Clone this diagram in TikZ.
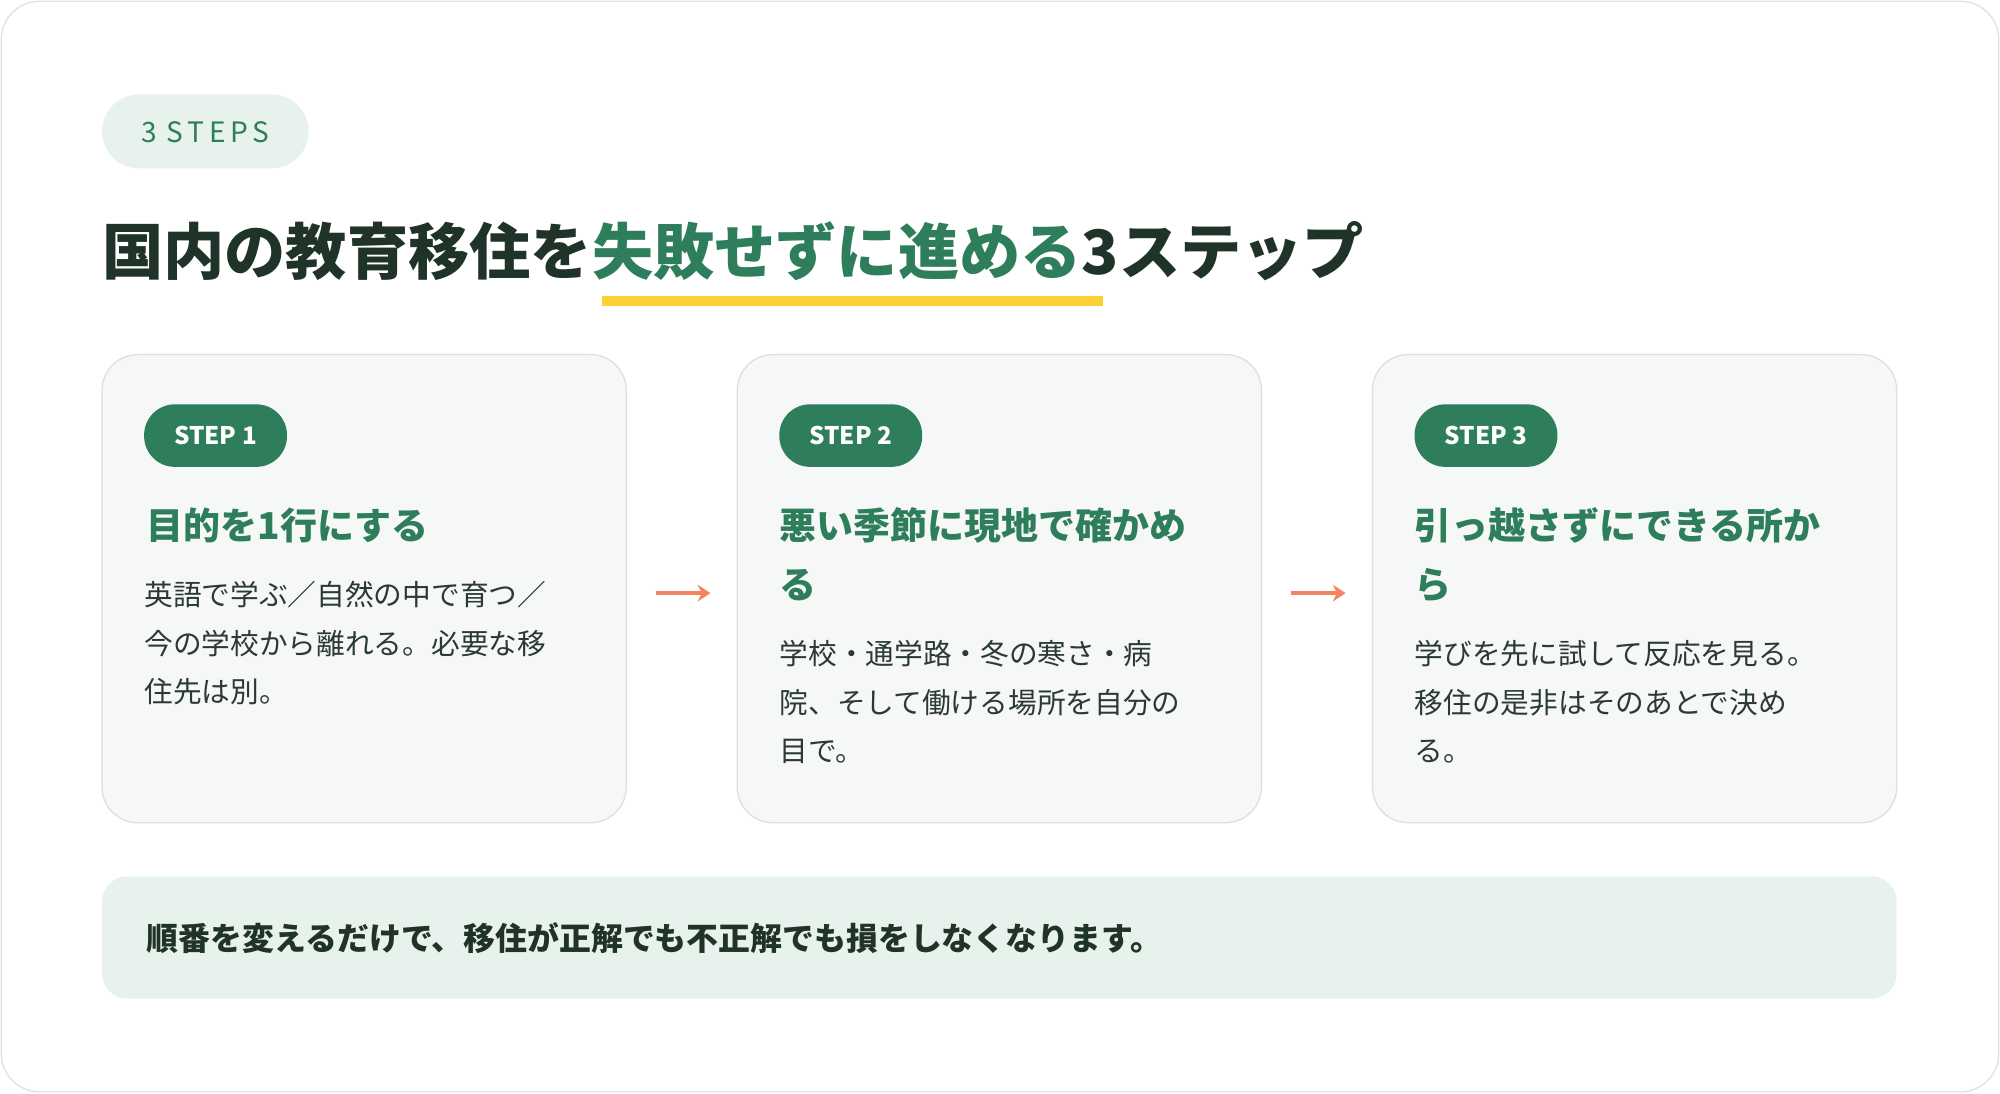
\documentclass[tikz,border=0pt]{standalone}
\usepackage{fontspec}
\usetikzlibrary{arrows.meta}
\setmainfont{Noto Sans CJK JP}
\begin{document}
\begin{tikzpicture}[x=1pt,y=-1pt,
  card/.style={draw=black!13,rounded corners=28pt,line width=1pt},
  pill/.style={fill=sg,rounded corners=24pt},
  pt/.style={text=white,font=\fontsize{19}{19}\selectfont\bfseries,anchor=center},
  hd/.style={text=sg,font=\fontsize{29}{29}\selectfont\bfseries,anchor=base west,inner sep=0},
  bd/.style={text=dk,font=\fontsize{22.5}{22.5}\selectfont,anchor=base west,inner sep=0},
  arr/.style={draw=orng,line width=3.5pt,-{Stealth[length=10pt,width=13pt]}}]
\definecolor{sg}{HTML}{2E7D5B}
\definecolor{dk}{HTML}{2B3A33}
\definecolor{tt}{HTML}{1F3329}
\definecolor{orng}{HTML}{F4845F}
\definecolor{lg}{HTML}{E8F2EC}
\definecolor{cf}{HTML}{F6F8F7}
\useasboundingbox (0,0) rectangle (1568,857);
\draw[black!12,fill=white,rounded corners=30pt,line width=1pt] (1,1) rectangle (1567,856);
\fill[lg,rounded corners=29pt] (80,74) rectangle (242,132);
\node[text=sg,font=\fontsize{22}{22}\selectfont,anchor=center] (tag) at (161,104) {3\,\,S\,T\,E\,P\,S};
\fill[yellow!60!orange!80!white] (472,232) rectangle (865,240);
\node[anchor=base west,inner sep=0,font=\fontsize{48}{48}\selectfont\bfseries,text=tt] (title) at (80,215)
  {国内の教育移住を\textcolor{sg}{失敗せずに進める}3ステップ};
\foreach \i/\x in {1/80,2/578,3/1076}{
  \draw[card,fill=cf] (\x,278) rectangle ++(411,367);
  \fill[pill] (\x+33,317) rectangle ++(112,49);
  \node[pt] (s\i) at (\x+89,341.5) {STEP \i};
}
\node[hd] (h1) at (115,423) {目的を1行にする};
\node[bd] (b1a) at (113,475) {英語で学ぶ／自然の中で育つ／};
\node[bd] (b1b) at (113,513) {今の学校から離れる。必要な移};
\node[bd] (b1c) at (113,551) {住先は別。};
\node[hd] (h2a) at (611,423) {悪い季節に現地で確かめ};
\node[hd] (h2b) at (611,469) {る};
\node[bd] (b2a) at (611,521) {学校・通学路・冬の寒さ・病};
\node[bd] (b2b) at (611,559) {院、そして働ける場所を自分の};
\node[bd] (b2c) at (611,597) {目で。};
\node[hd] (h3a) at (1109,423) {引っ越さずにできる所か};
\node[hd] (h3b) at (1109,469) {ら};
\node[bd] (b3a) at (1109,521) {学びを先に試して反応を見る。};
\node[bd] (b3b) at (1109,559) {移住の是非はそのあとで決め};
\node[bd] (b3c) at (1109,597) {る。};
\coordinate (a1) at (514,465); \coordinate (a2) at (557,465);
\coordinate (a3) at (1012,465); \coordinate (a4) at (1055,465);
\draw[arr] (a1) -- (a2);
\draw[arr] (a3) -- (a4);
\fill[lg,rounded corners=20pt] (80,687) rectangle (1487,783);
\node[anchor=base west,inner sep=0,text=tt,font=\fontsize{25}{25}\selectfont\bfseries] (note) at (115,745)
  {順番を変えるだけで、移住が正解でも不正解でも損をしなくなります。};
\end{tikzpicture}
\end{document}
